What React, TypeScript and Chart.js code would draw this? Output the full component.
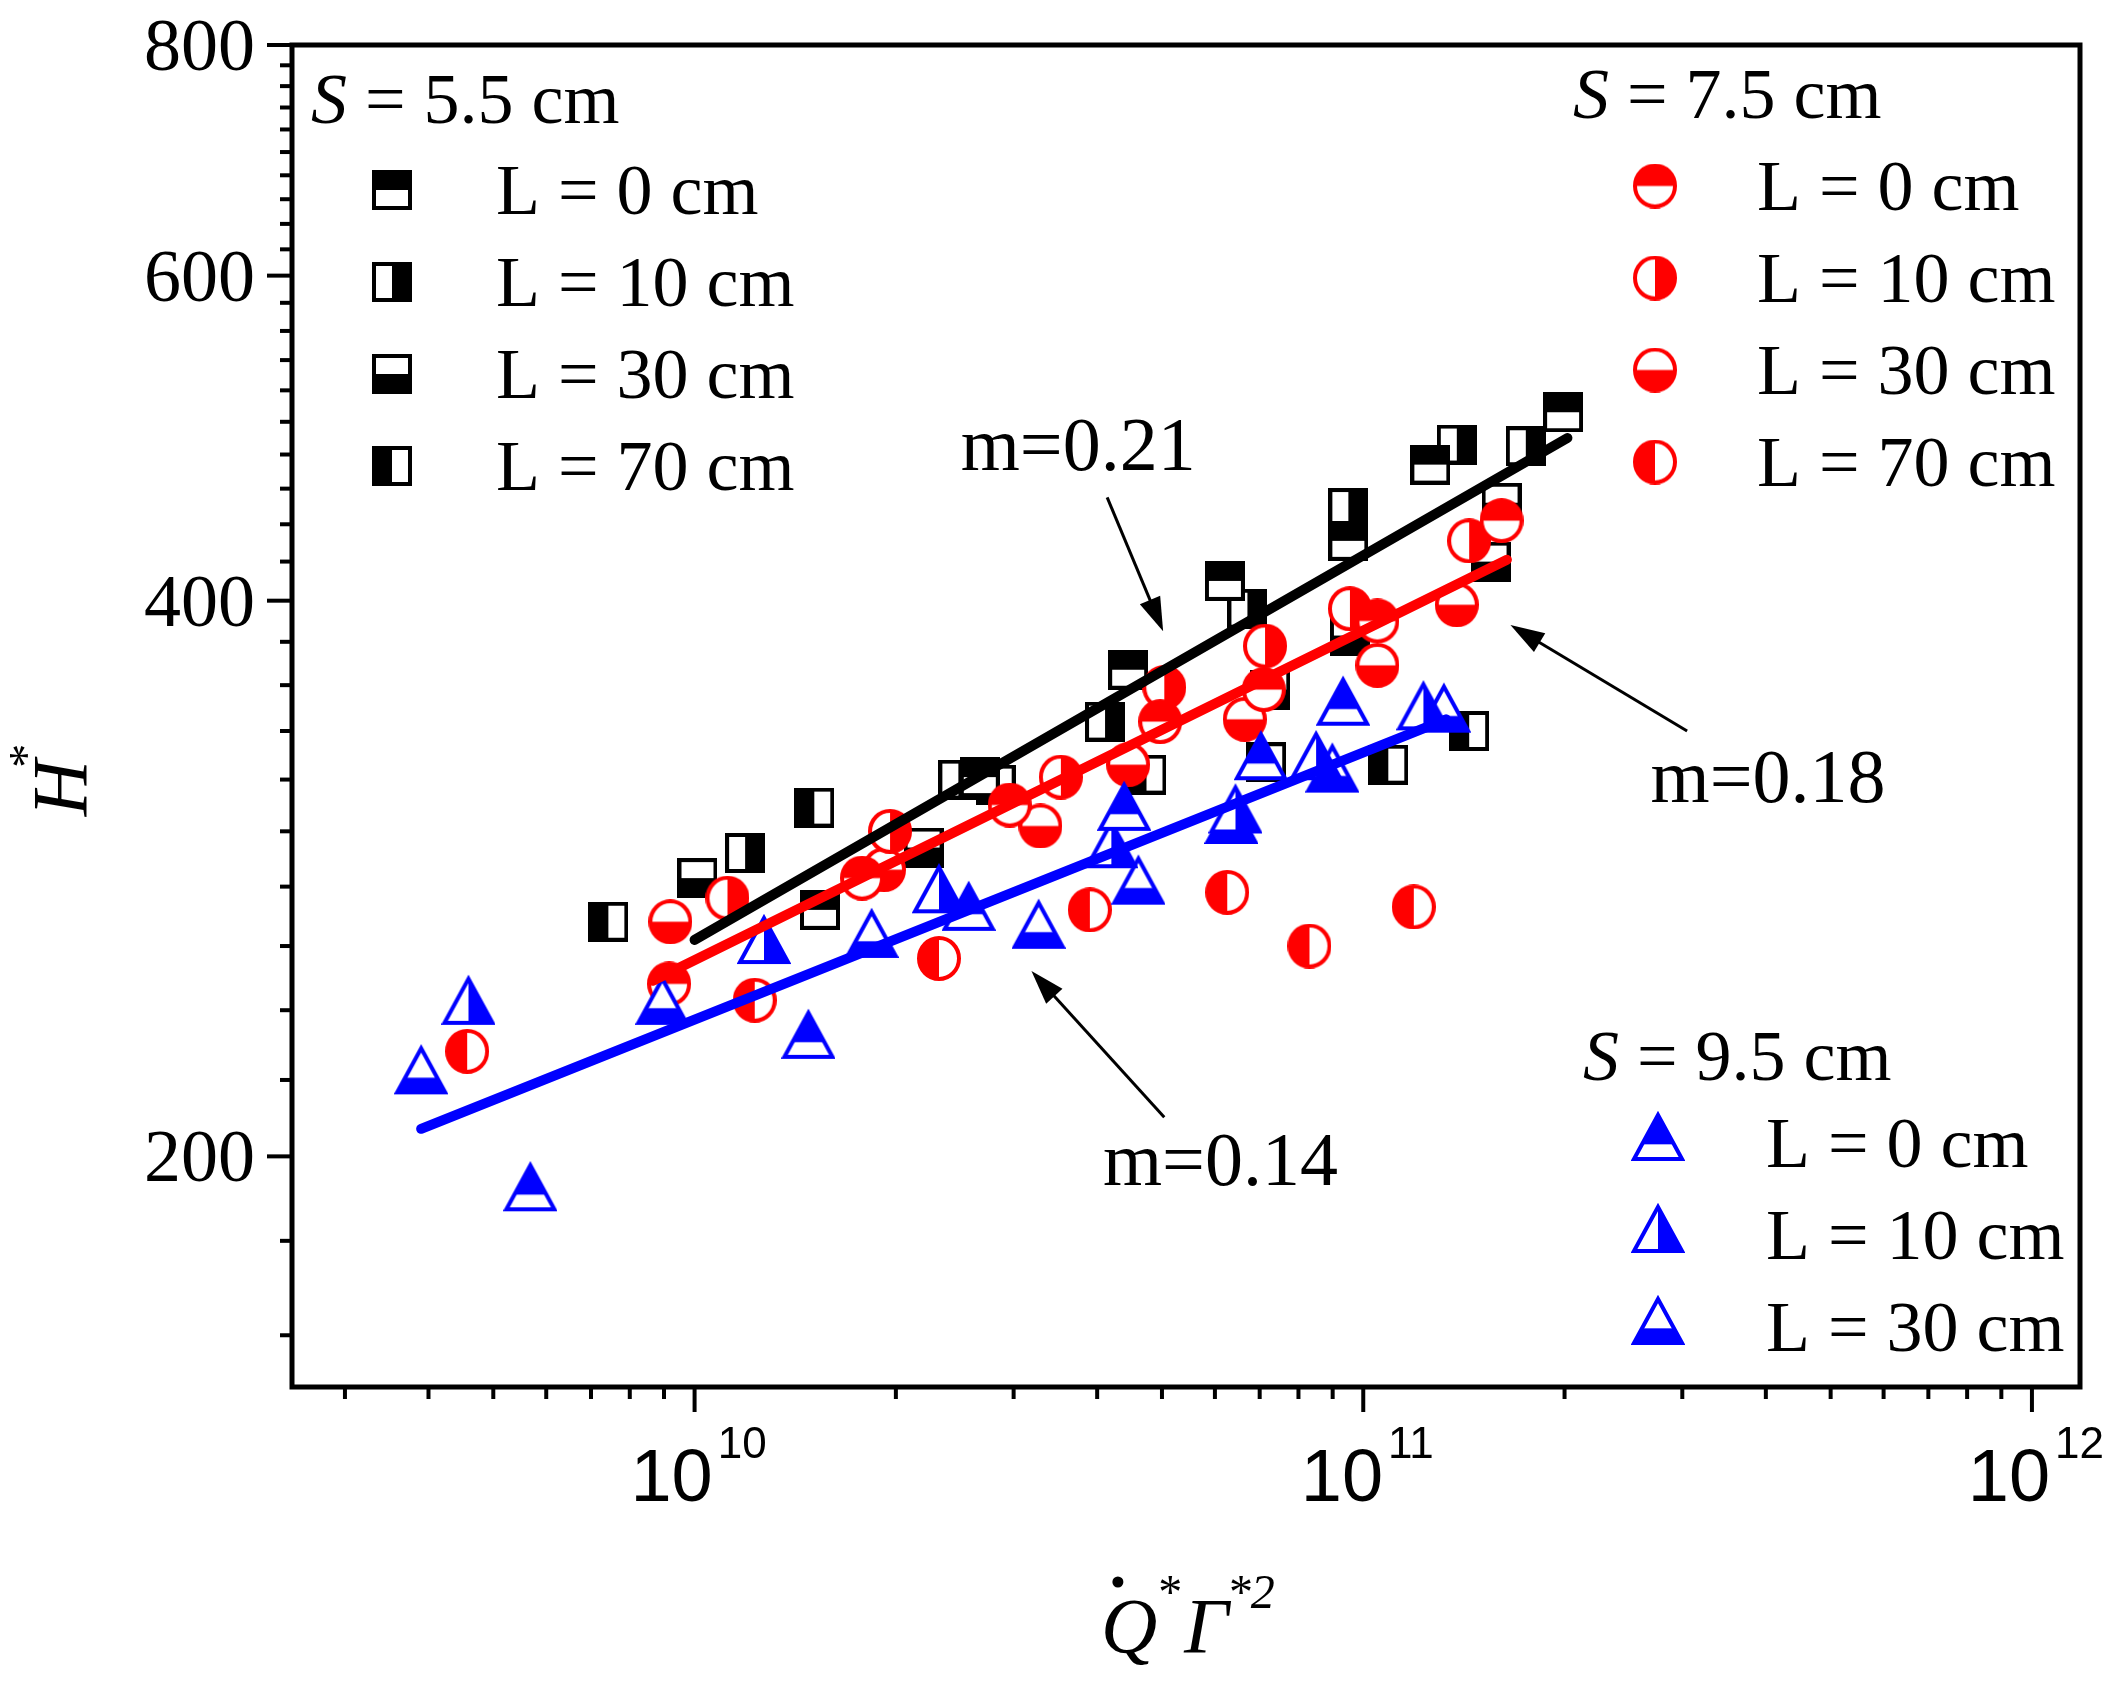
import { useEffect, useRef } from 'react'
import { Chart, registerables } from 'chart.js'

Chart.register(...registerables)

const SERIF = "'Liberation Serif', 'Times New Roman', serif"
const SANS = "'Liberation Sans', Arial, sans-serif"

// axis ranges and ticks
const X_MIN = 2.5e9
const X_MAX = 1.18e12
const Y_MIN = 150
const Y_MAX = 800
const yMajor = [200, 400, 600, 800]
const xMajor = [1e10, 1e11, 1e12]
const xMajorExp = ['10', '11', '12']

// S = 5.5 cm (black squares)
const s55L0x = [1.54e10, 2.67e10, 4.45e10, 6.21e10, 9.5e10, 1.26e11, 1.99e11]
const s55L0y = [272, 321, 367, 410, 431, 474, 506]
const s55L10x = [1.19e10, 2.48e10, 4.11e10, 6.71e10, 9.5e10, 1.38e11, 1.75e11]
const s55L10y = [292, 320, 344, 396, 449, 486, 485]
const s55L30x = [1.01e10, 2.2e10, 7.26e10, 9.55e10, 1.55e11, 1.61e11]
const s55L30y = [283, 294, 358, 383, 420, 452]
const s55L70x = [7.43e9, 1.51e10, 2.82e10, 4.74e10, 7.16e10, 1.09e11, 1.44e11]
const s55L70y = [268, 309, 318, 322, 327, 326, 340]

// S = 7.5 cm (red circles)
const s75L0x = [9.16e9, 1.78e10, 2.96e10, 4.97e10, 7.1e10, 1.05e11, 1.61e11]
const s75L0y = [248, 283, 310, 344, 358, 390, 442]
const s75L10x = [1.12e10, 1.96e10, 3.53e10, 5.04e10, 7.13e10, 9.55e10, 1.44e11]
const s75L10y = [276, 300, 321, 359, 378, 396, 431]
const s75L30x = [9.2e9, 1.92e10, 3.29e10, 4.45e10, 6.65e10, 1.05e11, 1.38e11]
const s75L30y = [268, 286, 302, 326, 345, 369, 398]
const s75L70x = [4.57e9, 1.23e10, 2.32e10, 3.9e10, 6.26e10, 8.31e10, 1.19e11]
const s75L70y = [228, 243, 256, 272, 278, 260, 273]

// S = 9.5 cm (blue triangles)
const s95L0x = [5.68e9, 1.48e10, 2.57e10, 4.39e10, 7.03e10, 9.33e10]
const s95L0y = [191, 231, 271, 307, 327, 350]
const s95L10x = [4.59e9, 1.27e10, 2.32e10, 4.2e10, 6.44e10, 8.5e10, 1.23e11]
const s95L10y = [241, 260, 277, 293, 306, 327, 348]
const s95L30x = [3.9e9, 8.95e9, 1.84e10, 3.27e10, 4.61e10, 6.35e10, 8.99e10, 1.32e11]
const s95L30y = [221, 241, 262, 265, 280, 302, 322, 347]

// power-law fits
const fit55x = [1.0e10, 2.02e11]
const fit55y = [262, 490]
const fit75x = [8.66e9, 1.64e11]
const fit75y = [249, 421]
const fit95x = [3.9e9, 1.33e11]
const fit95y = [207, 345]

// slope annotations: text anchor, arrow tail, arrow tip (data coordinates)
const noteLabels = ['m=0.21', 'm=0.18', 'm=0.14']
const noteText = [[2.5e10, 471], [2.69e11, 311], [4.08e10, 193]]
const noteTail = [[4.14e10, 455], [3.05e11, 340], [5.04e10, 210]]
const noteTip = [[5.02e10, 385], [1.66e11, 388], [3.19e10, 252]]

const legendLabels = ['L = 0 cm', 'L = 10 cm', 'L = 30 cm', 'L = 70 cm']

type Half = 'top' | 'right' | 'bottom' | 'left'
type Shape = 'square' | 'circle' | 'triangle'

function makeMarker(shape: Shape, color: string, half: Half): HTMLCanvasElement {
  const c = document.createElement('canvas')
  const lw = 4
  let w = 40
  let h = 40
  if (shape === 'circle') { w = 44; h = 45 }
  if (shape === 'triangle') { w = 54; h = 66 }
  c.width = w
  c.height = h
  const g = c.getContext('2d')!
  const tTop = 5
  const tBot = 49
  const centroid = tTop + (2 / 3) * (tBot - tTop)
  const path = () => {
    g.beginPath()
    if (shape === 'square') g.rect(lw / 2, lw / 2, w - lw, h - lw)
    else if (shape === 'circle') g.ellipse(w / 2, h / 2, w / 2 - lw / 2, h / 2 - lw / 2, 0, 0, Math.PI * 2)
    else {
      g.moveTo(w / 2, tTop)
      g.lineTo(w - 3, tBot)
      g.lineTo(3, tBot)
      g.closePath()
    }
  }
  g.fillStyle = '#fff'
  path()
  g.fill()
  g.save()
  path()
  g.clip()
  g.fillStyle = color
  const midY = shape === 'triangle' ? centroid : h / 2
  if (half === 'top') g.fillRect(0, 0, w, midY)
  if (half === 'bottom') g.fillRect(0, midY, w, h)
  if (half === 'left') g.fillRect(0, 0, w / 2, h)
  if (half === 'right') g.fillRect(w / 2, 0, w / 2, h)
  g.restore()
  g.lineWidth = lw
  g.lineJoin = 'miter'
  g.strokeStyle = color
  path()
  g.stroke()
  return c
}

const pts = (xs: number[], ys: number[]) => xs.map((x, i) => ({ x, y: ys[i] }))

export default function App() {
  const canvasRef = useRef<HTMLCanvasElement>(null)
  const chartRef = useRef<Chart | null>(null)

  useEffect(() => {
    if (!canvasRef.current) return
    const ctx = canvasRef.current.getContext('2d')
    if (!ctx) return

    const halves: Half[] = ['top', 'right', 'bottom', 'left']
    const sq = halves.map((hf) => makeMarker('square', '#000000', hf))
    const ci = halves.map((hf) => makeMarker('circle', '#ff0000', hf))
    const tr = halves.slice(0, 3).map((hf) => makeMarker('triangle', '#0000ff', hf))

    const scatter = (label: string, xs: number[], ys: number[], img: HTMLCanvasElement, order: number) => ({
      label,
      data: pts(xs, ys),
      pointStyle: img,
      pointRadius: 20,
      showLine: false,
      order,
    })
    const fit = (label: string, xs: number[], ys: number[], color: string) => ({
      label,
      data: pts(xs, ys),
      showLine: true,
      borderColor: color,
      borderWidth: 10,
      borderCapStyle: 'round' as const,
      pointRadius: 0,
      order: 0,
    })

    const decor = {
      id: 'decor',
      afterDraw(chart: any) {
        const { ctx: c, chartArea: a, scales } = chart
        const xs = scales.x
        const ys = scales.y
        c.save()
        c.fillStyle = '#000'
        c.strokeStyle = '#000'

        // frame
        c.lineWidth = 5
        c.strokeRect(a.left, a.top, a.right - a.left, a.bottom - a.top)

        // y ticks
        c.lineWidth = 4
        for (let v = 160; v <= 780; v += 20) {
          const major = yMajor.includes(v)
          const py = ys.getPixelForValue(v)
          c.beginPath()
          c.moveTo(a.left, py)
          c.lineTo(a.left - (major ? 25 : 12), py)
          c.stroke()
        }
        c.beginPath()
        c.moveTo(a.left, a.top)
        c.lineTo(a.left - 25, a.top)
        c.stroke()
        c.font = `74px ${SERIF}`
        c.textAlign = 'right'
        c.textBaseline = 'alphabetic'
        yMajor.forEach((v) => {
          c.fillText(String(v), a.left - 37, ys.getPixelForValue(v) + 25)
        })

        // x ticks
        for (let e = 9; e <= 11; e++) {
          for (let k = 1; k <= 9; k++) {
            const v = k * Math.pow(10, e)
            if (v < X_MIN || v > X_MAX) continue
            const px = xs.getPixelForValue(v)
            c.beginPath()
            c.moveTo(px, a.bottom)
            c.lineTo(px, a.bottom + (k === 1 ? 25 : 12))
            c.stroke()
          }
        }
        {
          const px = xs.getPixelForValue(1e12)
          c.beginPath()
          c.moveTo(px, a.bottom)
          c.lineTo(px, a.bottom + 25)
          c.stroke()
        }
        c.textAlign = 'left'
        xMajor.forEach((v, i) => {
          const px = xs.getPixelForValue(v)
          c.font = `74px ${SANS}`
          const wb = c.measureText('10').width
          c.font = `44px ${SANS}`
          const we = c.measureText(xMajorExp[i]).width
          const x0 = px - (wb + 5 + we) / 2 + 4
          c.font = `74px ${SANS}`
          c.fillText('10', x0, a.bottom + 114)
          c.font = `44px ${SANS}`
          c.fillText(xMajorExp[i], x0 + wb + 5, a.bottom + 71)
        })

        // y title  H*
        c.save()
        c.translate(60, (a.top + a.bottom) / 2 + 72)
        c.rotate(-Math.PI / 2)
        c.font = `italic 78px ${SERIF}`
        const wH = c.measureText('H').width
        c.fillText('H', -wH / 2, 26)
        c.font = `48px ${SERIF}`
        c.fillText('*', wH / 2 - 8, -18)
        c.restore()

        // x title  Q̇* Γ*2
        {
          const B = a.bottom + 265
          const x0 = (a.left + a.right) / 2 - 85
          c.font = `italic 78px ${SERIF}`
          const wQ = c.measureText('Q').width
          c.fillText('Q', x0, B)
          c.beginPath()
          c.arc(x0 + wQ * 0.3, B - 70, 5.5, 0, Math.PI * 2)
          c.fill()
          c.font = `48px ${SERIF}`
          const wS = c.measureText('*').width
          c.fillText('*', x0 + wQ + 1, B - 44)
          const xG = x0 + wQ + 1 + wS + 2
          c.font = `italic 78px ${SERIF}`
          const wG = c.measureText('\u0393').width
          c.fillText('\u0393', xG, B)
          c.font = `italic 48px ${SERIF}`
          c.fillText('*2', xG + wG - 2, B - 44)
        }

        // legends
        const drawLegend = (
          left: number, base: number, sVal: string, markX: number, textX: number,
          imgs: HTMLCanvasElement[], labels: string[], titleGap: number,
        ) => {
          c.font = `italic 72px ${SERIF}`
          c.fillText('S', left, base)
          const ws = c.measureText('S').width
          c.font = `72px ${SERIF}`
          c.fillText(` = ${sVal} cm`, left + ws, base)
          labels.forEach((lab, i) => {
            const cy = base + titleGap + 92 * i
            const img = imgs[i]
            c.drawImage(img, markX - img.width / 2, cy - img.height / 2)
            c.fillText(lab, textX, cy + 24)
          })
        }
        drawLegend(a.left + 19, a.top + 78, '5.5', a.left + 100, a.left + 204, sq, legendLabels, 67)
        drawLegend(a.left + 1281, a.top + 73, '7.5', a.left + 1363, a.left + 1465, ci, legendLabels, 68)
        drawLegend(a.left + 1291, a.top + 1035, '9.5', a.left + 1366, a.left + 1474, tr, legendLabels.slice(0, 3), 63)

        // slope notes with arrows
        noteLabels.forEach((t, i) => {
          const tx = xs.getPixelForValue(noteText[i][0])
          const ty = ys.getPixelForValue(noteText[i][1])
          c.font = `76px ${SERIF}`
          c.fillText(t, tx, ty)
          const x1 = xs.getPixelForValue(noteTail[i][0])
          const y1 = ys.getPixelForValue(noteTail[i][1])
          const x2 = xs.getPixelForValue(noteTip[i][0])
          const y2 = ys.getPixelForValue(noteTip[i][1])
          const ang = Math.atan2(y2 - y1, x2 - x1)
          const hl = 34
          const hw = 11
          c.lineWidth = 3
          c.beginPath()
          c.moveTo(x1, y1)
          c.lineTo(x2 - Math.cos(ang) * (hl - 4), y2 - Math.sin(ang) * (hl - 4))
          c.stroke()
          c.beginPath()
          c.moveTo(x2, y2)
          c.lineTo(x2 - Math.cos(ang) * hl - Math.sin(ang) * hw, y2 - Math.sin(ang) * hl + Math.cos(ang) * hw)
          c.lineTo(x2 - Math.cos(ang) * hl + Math.sin(ang) * hw, y2 - Math.sin(ang) * hl - Math.cos(ang) * hw)
          c.closePath()
          c.fill()
        })
        c.restore()
      },
    }

    chartRef.current = new Chart(ctx, {
      type: 'scatter',
      data: {
        datasets: [
          fit('fit 5.5', fit55x, fit55y, '#000000'),
          fit('fit 7.5', fit75x, fit75y, '#ff0000'),
          fit('fit 9.5', fit95x, fit95y, '#0000ff'),
          scatter('S9.5 L0', s95L0x, s95L0y, tr[0], 1),
          scatter('S9.5 L10', s95L10x, s95L10y, tr[1], 1),
          scatter('S9.5 L30', s95L30x, s95L30y, tr[2], 1),
          scatter('S7.5 L0', s75L0x, s75L0y, ci[0], 2),
          scatter('S7.5 L10', s75L10x, s75L10y, ci[1], 2),
          scatter('S7.5 L30', s75L30x, s75L30y, ci[2], 2),
          scatter('S7.5 L70', s75L70x, s75L70y, ci[3], 2),
          scatter('S5.5 L0', s55L0x, s55L0y, sq[0], 3),
          scatter('S5.5 L10', s55L10x, s55L10y, sq[1], 3),
          scatter('S5.5 L30', s55L30x, s55L30y, sq[2], 3),
          scatter('S5.5 L70', s55L70x, s55L70y, sq[3], 3),
        ] as any,
      },
      options: {
        responsive: true,
        maintainAspectRatio: false,
        animation: false,
        devicePixelRatio: 1,
        layout: { padding: { top: 45, right: 27, left: 0, bottom: 0 } },
        plugins: { legend: { display: false }, tooltip: { enabled: false } },
        scales: {
          x: {
            type: 'logarithmic',
            min: X_MIN,
            max: X_MAX,
            grid: { display: false },
            border: { display: false },
            ticks: { display: false },
            afterFit: (s: any) => { s.height = 297 },
          },
          y: {
            type: 'logarithmic',
            min: Y_MIN,
            max: Y_MAX,
            grid: { display: false },
            border: { display: false },
            ticks: { display: false },
            afterFit: (s: any) => { s.width = 292 },
          },
        },
      },
      plugins: [decor],
    })

    return () => {
      if (chartRef.current) chartRef.current.destroy()
    }
  }, [])

  return (
    <div style={{ position: 'fixed', left: 0, top: 0, width: '2107px', height: '1684px', background: '#fff' }}>
      <canvas ref={canvasRef}></canvas>
    </div>
  )
}
